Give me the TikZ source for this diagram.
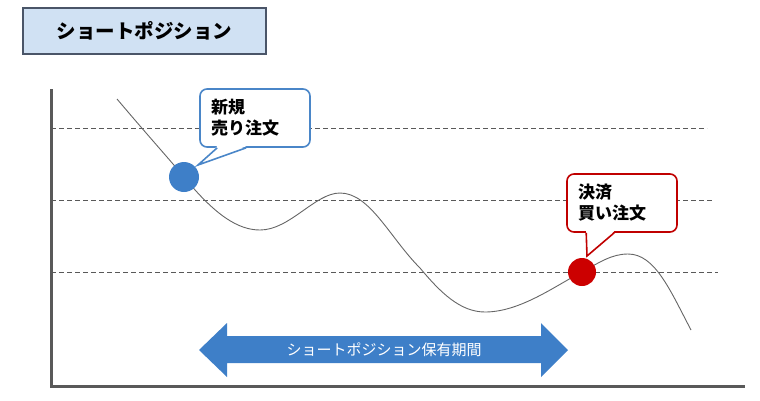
\documentclass[tikz,border=0pt]{standalone}
\usepackage{fontspec}
\setmainfont{Noto Sans CJK JP}
\usetikzlibrary{calc,positioning}
\definecolor{titlefill}{HTML}{D0E1F3}
\definecolor{titleline}{HTML}{4A5568}
\definecolor{axisgray}{HTML}{595959}
\definecolor{curvegray}{HTML}{666666}
\definecolor{markblue}{HTML}{3E7FC8}
\definecolor{markred}{HTML}{CC0000}
\definecolor{lineblue}{HTML}{4A86C8}
\definecolor{linered}{HTML}{C00000}
\tikzset{
    x=1pt,y=-1pt,
    titlebox/.style={draw=titleline, line width=1.2pt, fill=titlefill, minimum width=243pt,
        minimum height=46pt, font=\fontsize{19.5}{22}\selectfont\bfseries},
    axis/.style={draw=axisgray, line width=3pt},
    grid/.style={draw=axisgray, line width=0.7pt, dash pattern=on 5pt off 3pt},
    price/.style={draw=curvegray, line width=0.9pt},
    dot/.style={circle, inner sep=0pt, minimum size=#1},
    callbox/.style={draw=#1, line width=1.6pt, fill=white, rounded corners=7pt, minimum width=110pt,
        minimum height=58pt, text width=88pt, align=left, inner sep=0pt,
        font=\fontsize{17}{21}\selectfont\bfseries},
    pointer/.style={draw=#1, line width=1.6pt, line join=miter},
    periodlabel/.style={text=white, font=\fontsize{15}{18}\selectfont, inner sep=0pt}
}
\begin{document}
\begin{tikzpicture}
    \useasboundingbox (0,0) rectangle (760,400);

    % title
    \node[titlebox] (title) at (144.5,31) {ショートポジション};

    % axes and guide lines
    \coordinate (top) at (51,89);
    \coordinate (origin) at (51,386);
    \coordinate (end) at (745,386);
    \foreach \y/\xe in {128/707, 200/713, 272/718}
        \draw[grid] (51,\y) -- (\xe,\y);
    \draw[axis] (top) -- (origin) -- (end);

    % price line
    \draw[price] (117,99) .. controls (150,138) and (170,160) .. (184,177)
        .. controls (215,215) and (238,230) .. (260,230)
        .. controls (290,230) and (315,193) .. (340,193)
        .. controls (370,193) and (390,238) .. (420,268)
        .. controls (440,292) and (460,312) .. (485,312)
        .. controls (520,312) and (555,286) .. (582,272)
        .. controls (600,262) and (612,254) .. (628,254)
        .. controls (655,254) and (670,290) .. (691,330);

    % entry and exit points
    \node[dot=30pt, fill=markblue] (entry) at (184,177) {};
    \node[dot=28pt, fill=markred] (exit) at (582,272) {};

    % callout for the entry
    \node[callbox=lineblue] (sellbox) at (255,118) {新規\\売り注文};
    \coordinate (sellL) at ($(sellbox.south west)+(18,0)$);
    \coordinate (sellR) at ($(sellbox.south west)+(47,0)$);
    \coordinate (selltip) at (198,165);
    \fill[white] ([yshift=1.6pt]sellL) -- (selltip) -- ([yshift=1.6pt]sellR) -- cycle;
    \draw[pointer=lineblue] (sellL) -- (selltip) -- (sellR);

    % callout for the exit
    \node[callbox=linered] (buybox) at (622,203) {決済\\買い注文};
    \coordinate (buyL) at ($(buybox.south west)+(20,0)$);
    \coordinate (buyR) at ($(buybox.south west)+(48,0)$);
    \coordinate (buytip) at (587,256);
    \fill[white] ([yshift=1.6pt]buyL) -- (buytip) -- ([yshift=1.6pt]buyR) -- cycle;
    \draw[pointer=linered] (buyL) -- (buytip) -- (buyR);

    % holding period
    \fill[markblue] (199,350) -- (227,323) -- (227,336) -- (541,336) -- (541,323) -- (568,350)
        -- (541,377) -- (541,363) -- (227,363) -- (227,377) -- cycle;
    \node[periodlabel] (period) at (384,350) {ショートポジション保有期間};
\end{tikzpicture}
\end{document}
